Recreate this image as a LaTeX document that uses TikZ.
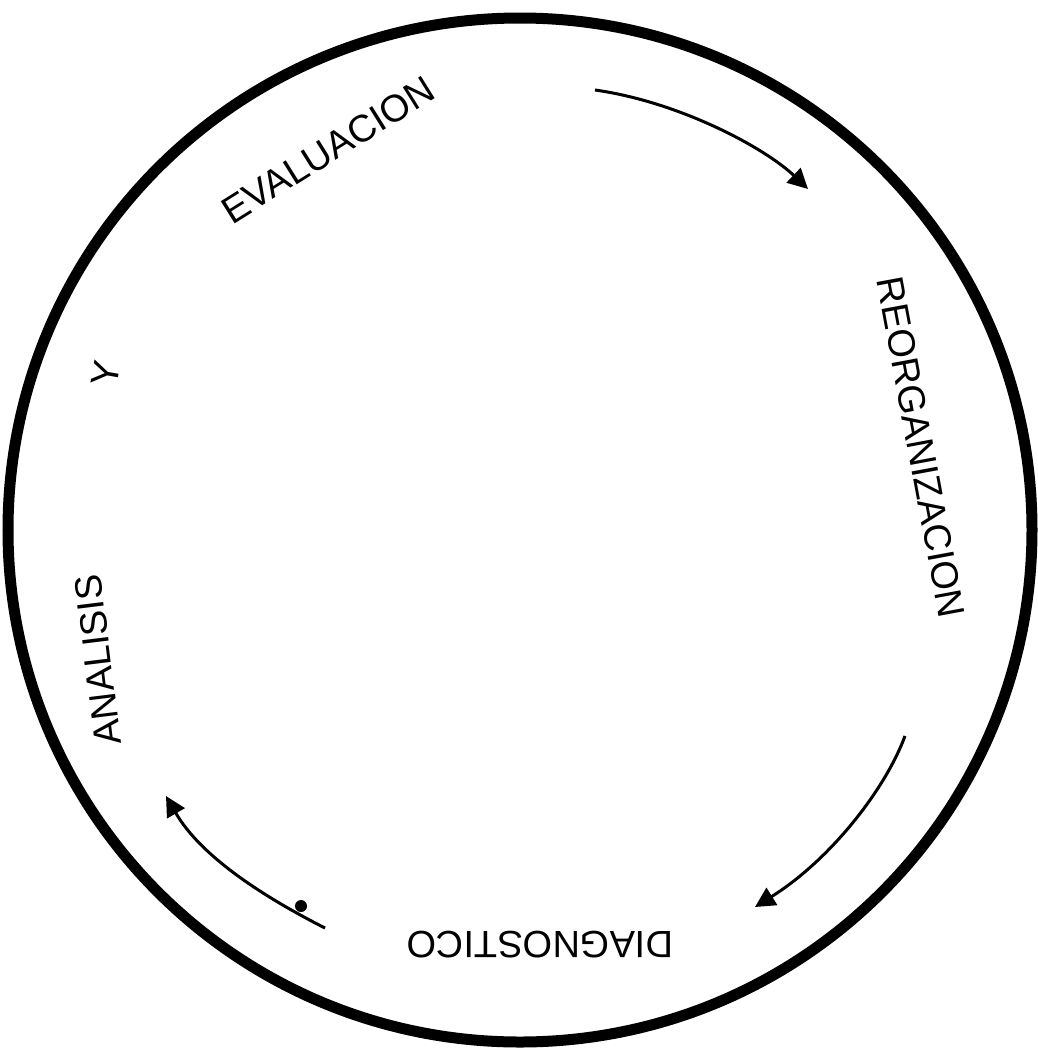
\documentclass[tikz,border=0pt]{standalone}
\usepackage{fontspec}
\setmainfont{Liberation Sans}
\usetikzlibrary{arrows.meta}
\begin{document}
\begin{tikzpicture}[x=0.5pt,y=-0.5pt,
  lbl/.style={inner sep=0pt, font=\fontsize{19}{22}\selectfont},
  ring/.style={line width=5.5pt},
  flow/.style={line width=1.5pt, -{Triangle[length=10pt,width=10pt]}}]
\useasboundingbox (0,0) rectangle (1038,1051);
% ring
\coordinate (ctr) at (520,530);
\draw[ring] (ctr) circle[radius=512];
% labels
\node[lbl, rotate=32] (eval) at (328,150) {EVALUACION};
\node[lbl, rotate=-79.5] (reorg) at (921,447) {REORGANIZACION};
\node[lbl, rotate=180] (diag) at (540,945) {DIAGNOSTICO};
\node[lbl, rotate=97] (anal) at (98,660) {ANALISIS};
\node[lbl, rotate=80] (yy) at (106,374) {Y};
% arrow ends
\coordinate (a1s) at (595,90);
\coordinate (a1e) at (808,189);
\coordinate (a2s) at (905,736);
\coordinate (a2e) at (755,907);
\coordinate (a3s) at (325,928);
\coordinate (a3e) at (166,796);
\draw[flow] (a1s) .. controls (680,102) and (765,148) .. (a1e);
\draw[flow] (a2s) .. controls (885,790) and (830,860) .. (a2e);
\draw[flow] (a3s) .. controls (260,895) and (200,855) .. (a3e);
% ink dot
\coordinate (dot) at (301,906);
\fill (dot) circle[radius=6];
\end{tikzpicture}
\end{document}
